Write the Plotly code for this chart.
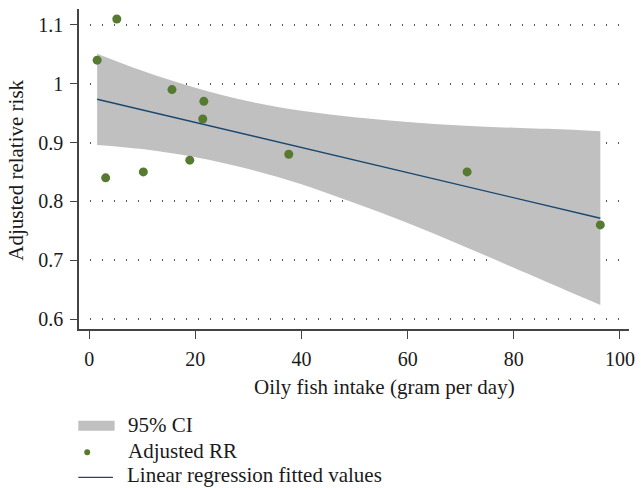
import plotly.graph_objects as go

# Observed study points (oily fish intake g/day, adjusted RR)
intake = [1.5, 5.2, 3.1, 10.2, 15.6, 18.95, 21.6, 21.4, 37.6, 71.2, 96.3]
adj_rr = [1.04, 1.11, 0.84, 0.85, 0.99, 0.87, 0.97, 0.94, 0.88, 0.85, 0.76]

# Linear regression fitted values
fit_x = [1.5, 96.3]
fit_y = [0.9736, 0.7713]

# 95% CI band
ci_x = [1.5, 10, 20, 30, 40, 50, 60, 70, 80, 90, 96.3]
ci_upper = [1.051, 1.022, 0.993, 0.970, 0.954, 0.943, 0.935, 0.929, 0.925, 0.922, 0.919]
ci_lower = [0.896, 0.889, 0.875, 0.855, 0.829, 0.797, 0.763, 0.726, 0.687, 0.648, 0.624]

x_ticks = [0, 20, 40, 60, 80, 100]
y_ticks = [0.6, 0.7, 0.8, 0.9, 1.0, 1.1]
y_ticktext = ["0.6", "0.7", "0.8", "0.9", "1", "1.1"]

legend_labels = ["95% CI", "Adjusted RR", "Linear regression fitted values"]

FONT = "Liberation Serif"
AXIS_COL = "#444444"
TXT_COL = "#1a1a1a"
BAND_COL = "#c0c0c0"
PT_COL = "#557a30"
LINE_COL = "#1a476f"

W, H = 641, 488
ML, MR, MT, MB = 79, 6, 9, 159
PW = W - ML - MR
PH = H - MT - MB


def px(xp):
    return (xp - ML) / PW


def py(yp):
    return (H - MB - yp) / PH


fig = go.Figure()

fig.add_trace(go.Scatter(
    x=ci_x, y=ci_lower,
    mode="lines", line=dict(width=0, color=BAND_COL, shape="spline"),
    showlegend=False, hoverinfo="skip",
))
fig.add_trace(go.Scatter(
    x=ci_x, y=ci_upper,
    mode="lines", line=dict(width=0, color=BAND_COL, shape="spline"),
    fill="tonexty", fillcolor=BAND_COL,
    name=legend_labels[0], showlegend=False, hoverinfo="skip",
))

fig.add_trace(go.Scatter(
    x=fit_x, y=fit_y,
    mode="lines",
    line=dict(color=LINE_COL, width=1.4),
    name=legend_labels[2], showlegend=False,
))

fig.add_trace(go.Scatter(
    x=intake, y=adj_rr,
    mode="markers",
    marker=dict(color=PT_COL, size=9),
    name=legend_labels[1], showlegend=False,
))

# Manual legend below the plot
shapes = [
    dict(type="rect", xref="paper", yref="paper",
         x0=px(78.3), x1=px(115), y0=py(430.7), y1=py(420.7),
         fillcolor=BAND_COL, line=dict(width=0)),
    dict(type="circle", xref="paper", yref="paper",
         x0=px(84.3), x1=px(90.3), y0=py(455.3), y1=py(449.3),
         fillcolor=PT_COL, line=dict(width=0)),
    dict(type="line", xref="paper", yref="paper",
         x0=px(78.3), x1=px(113.3), y0=py(477.3), y1=py(477.3),
         line=dict(color=LINE_COL, width=1.3)),
]
annotations = [
    dict(text="Adjusted relative risk", xref="paper", yref="paper",
         x=px(15), y=py(170), xanchor="center", yanchor="middle",
         textangle=-90, showarrow=False,
         font=dict(family=FONT, size=21, color=TXT_COL)),
    dict(text="Oily fish intake (gram per day)", xref="paper", yref="paper",
         x=px(387.5), y=py(386.5), xanchor="center", yanchor="middle",
         showarrow=False,
         font=dict(family=FONT, size=21, color=TXT_COL)),
    dict(text=legend_labels[0], xref="paper", yref="paper",
         x=px(127), y=py(424.6), xanchor="left", yanchor="middle",
         showarrow=False, font=dict(family=FONT, size=21, color=TXT_COL)),
    dict(text=legend_labels[1], xref="paper", yref="paper",
         x=px(127), y=py(450.6), xanchor="left", yanchor="middle",
         showarrow=False, font=dict(family=FONT, size=21, color=TXT_COL)),
    dict(text=legend_labels[2], xref="paper", yref="paper",
         x=px(127), y=py(488), xanchor="left", yanchor="bottom",
         borderpad=0,
         showarrow=False, font=dict(family=FONT, size=21, color=TXT_COL)),
]

fig.update_layout(
    width=W, height=H,
    margin=dict(l=ML, r=MR, t=MT, b=MB),
    paper_bgcolor="white",
    plot_bgcolor="white",
    font=dict(family=FONT, size=20, color=TXT_COL),
    showlegend=False,
    xaxis=dict(
        range=[-1.92, 101.7],
        tickvals=x_ticks,
        ticks="outside", ticklen=8, tickwidth=1.4, tickcolor=AXIS_COL,
        showline=True, linecolor=AXIS_COL, linewidth=1.6,
        showgrid=False, zeroline=False,
        tickfont=dict(family=FONT, size=20, color=TXT_COL),
        ticklabelstandoff=3,
    ),
    yaxis=dict(
        range=[0.583, 1.127],
        tickvals=y_ticks, ticktext=y_ticktext,
        ticks="outside", ticklen=7, tickwidth=1.4, tickcolor=AXIS_COL,
        showline=True, linecolor=AXIS_COL, linewidth=1.6,
        showgrid=True, gridcolor="#555555", gridwidth=1.5,
        griddash="0px,10.5px,1.5px,0px",
        zeroline=False,
        tickfont=dict(family=FONT, size=20, color=TXT_COL),
        ticklabelstandoff=3,
    ),
    shapes=shapes,
    annotations=annotations,
)

fig.write_html("out.html")
